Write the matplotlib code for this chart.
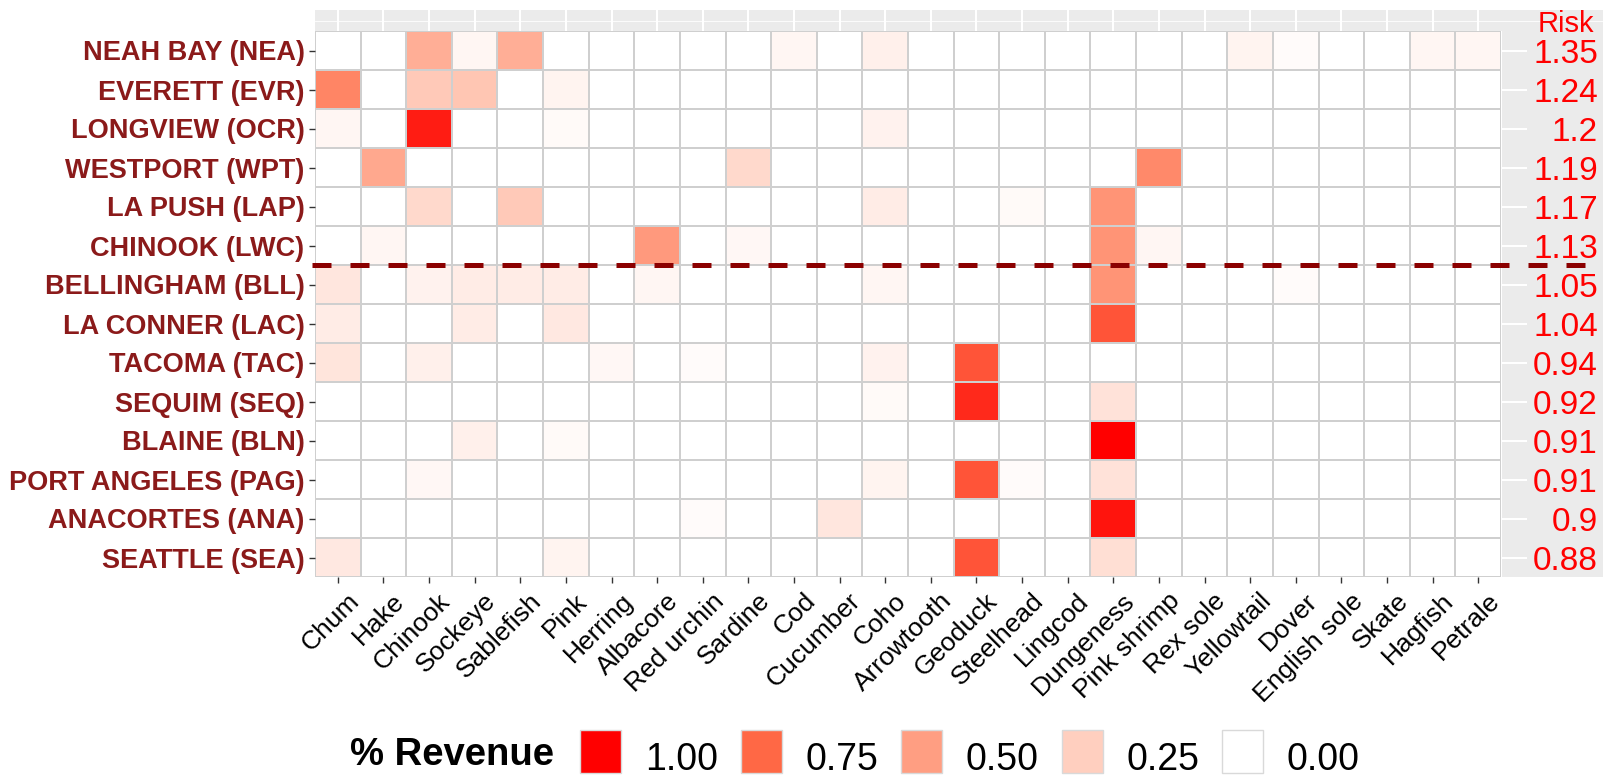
import numpy as np
import matplotlib.pyplot as plt
from matplotlib.colors import LinearSegmentedColormap
from matplotlib.patches import Rectangle
from matplotlib.lines import Line2D
from matplotlib import transforms

plt.rcParams['font.family'] = ['Liberation Sans', 'DejaVu Sans']

# --- data ---
ports = ["NEAH BAY (NEA)", "EVERETT (EVR)", "LONGVIEW (OCR)", "WESTPORT (WPT)",
         "LA PUSH (LAP)", "CHINOOK (LWC)", "BELLINGHAM (BLL)", "LA CONNER (LAC)",
         "TACOMA (TAC)", "SEQUIM (SEQ)", "BLAINE (BLN)", "PORT ANGELES (PAG)",
         "ANACORTES (ANA)", "SEATTLE (SEA)"]
risk = ["1.35", "1.24", "1.2", "1.19", "1.17", "1.13", "1.05", "1.04",
        "0.94", "0.92", "0.91", "0.91", "0.9", "0.88"]
species = ["Chum", "Hake", "Chinook", "Sockeye", "Sablefish", "Pink", "Herring",
           "Albacore", "Red urchin", "Sardine", "Cod", "Cucumber", "Coho",
           "Arrowtooth", "Geoduck", "Steelhead", "Lingcod", "Dungeness",
           "Pink shrimp", "Rex sole", "Yellowtail", "Dover", "English sole",
           "Skate", "Hagfish", "Petrale"]

# share of revenue, one row per port (same order as ports / species)
revenue = [
    [0, 0, .42, .05, .42, 0, 0, 0, 0, 0, .05, 0, .08, 0, 0, 0, 0, 0, 0, 0, .06, .02, 0, 0, .05, .05],
    [.62, 0, .28, .30, 0, .06, 0, 0, 0, 0, 0, 0, 0, 0, 0, 0, 0, 0, 0, 0, 0, 0, 0, 0, 0, 0],
    [.05, 0, .93, 0, 0, .03, 0, 0, 0, 0, 0, 0, .07, 0, 0, 0, 0, 0, 0, 0, 0, 0, 0, 0, 0, 0],
    [0, .45, 0, 0, 0, 0, 0, 0, 0, .20, 0, 0, 0, 0, 0, 0, 0, 0, .60, 0, 0, 0, 0, 0, 0, 0],
    [0, 0, .20, 0, .28, 0, 0, 0, 0, 0, 0, 0, .10, 0, 0, .03, 0, .55, 0, 0, 0, 0, 0, 0, 0, 0],
    [0, .05, 0, 0, 0, 0, 0, .52, 0, .04, 0, 0, 0, 0, 0, 0, 0, .55, .05, 0, 0, 0, 0, 0, 0, 0],
    [.13, 0, .07, .10, .10, .10, 0, .05, 0, 0, 0, 0, .05, 0, 0, 0, 0, .55, 0, 0, 0, .02, 0, 0, 0, 0],
    [.10, 0, 0, .10, 0, .12, 0, 0, 0, 0, 0, 0, 0, 0, 0, 0, 0, .80, 0, 0, 0, 0, 0, 0, 0, 0],
    [.14, 0, .08, 0, 0, 0, .04, 0, .02, 0, 0, 0, .07, 0, .80, 0, 0, 0, 0, 0, 0, 0, 0, 0, 0, 0],
    [0, 0, 0, 0, 0, 0, 0, 0, 0, 0, 0, 0, .03, 0, .90, 0, 0, .15, 0, 0, 0, 0, 0, 0, 0, 0],
    [0, 0, 0, .08, 0, .03, 0, 0, 0, 0, 0, 0, 0, 0, 0, 0, 0, 1.0, 0, 0, 0, 0, 0, 0, 0, 0],
    [0, 0, .04, 0, 0, 0, 0, 0, 0, 0, 0, 0, .06, 0, .80, .02, 0, .15, 0, 0, 0, 0, 0, 0, 0, 0],
    [0, 0, 0, 0, 0, 0, 0, 0, .02, 0, 0, .13, 0, 0, 0, 0, 0, .95, 0, 0, 0, 0, 0, 0, 0, 0],
    [.12, 0, 0, 0, 0, .06, 0, 0, 0, 0, 0, 0, 0, 0, .80, 0, 0, .17, 0, 0, 0, 0, 0, 0, 0, 0],
]
legend_breaks = [1.00, 0.75, 0.50, 0.25, 0.00]
cutoff_after = 6   # dashed line below the 6th port

data = np.array(revenue)
n_rows, n_cols = data.shape

# white -> red (roughly Lab interpolation like ggplot)
cmap = LinearSegmentedColormap.from_list(
    "wr", [(0, "#FFFFFF"), (.25, "#FFCFBF"), (.5, "#FF9E82"), (.75, "#FF6946"), (1, "#FF0000")])

W, H = 1603, 775
fig = plt.figure(figsize=(W / 100, H / 100), dpi=100)

def box(x0, y0, x1, y1):
    return [x0 / W, 1 - y1 / H, (x1 - x0) / W, (y1 - y0) / H]

PL, PR, PT, PB = 315, 1501, 31, 577
ax = fig.add_axes(box(PL, PT, PR, PB))
ax.pcolormesh(np.arange(n_cols + 1), np.arange(n_rows + 1), data, cmap=cmap,
              vmin=0, vmax=1, edgecolors="#CFCFCF", linewidth=1.2)
ax.set_xlim(0, n_cols)
ax.set_ylim(n_rows, 0)
for s in ax.spines.values():
    s.set_visible(False)
ax.set_xticks(np.arange(n_cols) + 0.5)
ax.set_xticklabels(species, rotation=45, ha="right", va="top",
                   rotation_mode="anchor", fontsize=19, color="black")
ax.set_yticks(np.arange(n_rows) + 0.5)
ax.set_yticklabels(ports, fontsize=19.5, fontweight="bold", color="#8B1A1A")
ax.tick_params(axis="x", length=4.5, width=1, color="#333333", pad=4)
ax.tick_params(axis="y", length=4.5, width=1, color="#333333", pad=3)
shift = transforms.ScaledTranslation(9 / 100, 0, fig.dpi_scale_trans)
for lab in ax.get_xticklabels():
    lab.set_transform(lab.get_transform() + shift)

# top strip (grey band with white guide lines)
tax = fig.add_axes(box(PL, 10, W, PT))
tax.set_facecolor("#EBEBEB")
tax.set_xlim(0, n_cols * (W - PL) / (PR - PL))
tax.set_ylim(0, 1)
tax.vlines(np.arange(n_cols) + 0.5, 0, 1, color="white", lw=1.5)
tax.axhline(0.5, color="white", lw=0.6)
tax.set_xticks([])
tax.set_yticks([])
for s in tax.spines.values():
    s.set_visible(False)

# right strip with risk values
rax = fig.add_axes(box(PR + 1, PT, W, PB))
rax.set_facecolor("#EBEBEB")
rax.set_xlim(0, 1)
rax.set_ylim(n_rows, 0)
rax.set_xticks([])
rax.set_yticks([])
for s in rax.spines.values():
    s.set_visible(False)
for i, r in enumerate(risk):
    rax.hlines(i + 0.5, 0, 0.25, color="white", lw=1.5)
    rax.text(0.95, i + 0.5 + 0.31, r, ha="right", va="baseline",
             fontsize=24, color="#FF0000")
fig.text(1566 / W, 1 - 32 / H, "Risk", ha="center", va="baseline",
         fontsize=21, color="#FF0000")

# dashed cut-off line
tr = transforms.blended_transform_factory(fig.transFigure, ax.transData)
fig.add_artist(Line2D([312 / W, 1.0], [cutoff_after, cutoff_after], transform=tr,
                      color="#8B0000", lw=3.6, dashes=(3.8, 3.8), zorder=5))

# legend
fig.text(350 / W, 1 - 765 / H, "% Revenue", fontsize=27.5, fontweight="bold",
         va="baseline", ha="left")
for k, v in enumerate(legend_breaks):
    x0 = 580 + 160.5 * k
    fig.add_artist(Rectangle((x0 / W, 1 - 773 / H), 41 / W, 43 / H,
                             transform=fig.transFigure, facecolor=cmap(v),
                             edgecolor="#D9D9D9", lw=1))
    fig.text((x0 + 65) / W, 1 - 770 / H, f"{v:.2f}", fontsize=27,
             va="baseline", ha="left")

fig.savefig("out.png", dpi=100)
